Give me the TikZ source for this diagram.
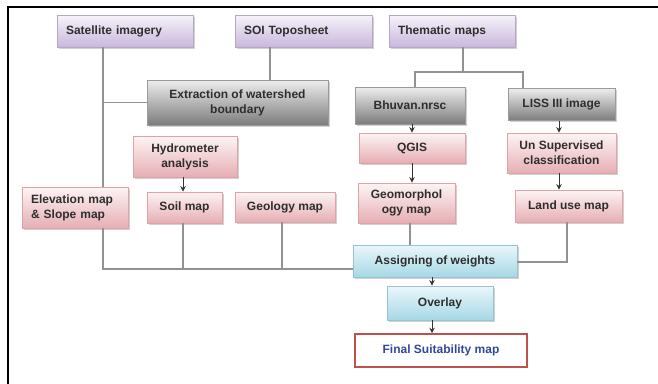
\documentclass[tikz,border=0pt]{standalone}
\usepackage{fontspec}
\setmainfont{Liberation Sans}
\usetikzlibrary{shadows,arrows.meta,calc}
\definecolor{txt}{HTML}{2E2E2E}
\definecolor{lavtop}{HTML}{F6F3FA}
\definecolor{lavbot}{HTML}{C9B7DC}
\definecolor{lavline}{HTML}{B5A7C6}
\definecolor{gratop}{HTML}{EDEDED}
\definecolor{grabot}{HTML}{7C7C7C}
\definecolor{graline}{HTML}{9A9A9A}
\definecolor{pintop}{HTML}{FDF4F4}
\definecolor{pinbot}{HTML}{E6AEB4}
\definecolor{pinline}{HTML}{DDA3A9}
\definecolor{cyatop}{HTML}{EAF7FB}
\definecolor{cyabot}{HTML}{A6D8E6}
\definecolor{cyaline}{HTML}{95C4D3}
\definecolor{conn}{HTML}{929292}
\definecolor{finred}{HTML}{C0504D}
\definecolor{finblue}{HTML}{2F4A9A}
\tikzset{
  box/.style={rectangle, line width=0.8pt, text=txt, align=center,
    font=\bfseries\fontsize{12}{15}\selectfont, inner sep=2pt,
    drop shadow={shadow xshift=1.5pt, shadow yshift=-1.5pt, opacity=0.3, fill=black!60}},
  lavbox/.style={box, draw=lavline, top color=lavtop, bottom color=lavbot},
  grabox/.style={box, draw=graline, top color=gratop, bottom color=grabot},
  pinbox/.style={box, draw=pinline, top color=pintop, bottom color=pinbot},
  cyabox/.style={box, draw=cyaline, top color=cyatop, bottom color=cyabot},
  finbox/.style={rectangle, draw=finred, line width=1.6pt, fill=white, text=finblue,
    font=\bfseries\fontsize{12}{15}\selectfont},
  leftalign/.style={align=left, inner xsep=9pt},
  link/.style={draw=conn, line width=1.4pt},
  arr/.style={draw=black!80, line width=1pt, -{Stealth[length=5.5pt,width=5.5pt]}},
}
\begin{document}
\begin{tikzpicture}[x=1pt,y=-1pt]
\useasboundingbox (0,0) rectangle (658,383);
% frame
\draw[line width=2pt] (7.5,390) -- (7.5,7) -- (665,7);

% top row
\node[lavbox, leftalign, minimum width=136pt, minimum height=32pt, text width=118pt] (sat) at (125,31) {Satellite imagery};
\node[lavbox, leftalign, minimum width=137pt, minimum height=32pt, text width=119pt] (soi) at (303.5,31) {SOI Toposheet};
\node[lavbox, leftalign, minimum width=126pt, minimum height=32pt, text width=108pt] (them) at (452,31) {Thematic maps};

% second row
\node[grabox, minimum width=181pt, minimum height=45pt] (ext) at (237.5,102.5) {Extraction of watershed\\boundary};
\node[grabox, minimum width=110pt, minimum height=37pt] (bhu) at (410,105.5) {Bhuvan.nrsc};
\node[grabox, minimum width=107pt, minimum height=32pt] (liss) at (561.5,104.5) {LISS III image};

% third row
\node[pinbox, minimum width=104pt, minimum height=41pt] (hyd) at (185,156.5) {Hydrometer\\analysis};
\node[pinbox, minimum width=106pt, minimum height=30pt] (qgis) at (412,148) {QGIS};
\node[pinbox, minimum width=109pt, minimum height=40pt] (uns) at (561.5,153) {Un Supervised\\classification};

% map row
\node[pinbox, leftalign, minimum width=106pt, minimum height=41pt, text width=88pt] (elev) at (75,207.5) {Elevation map\\\& Slope map};
\node[pinbox, minimum width=75pt, minimum height=31pt] (soil) at (184.5,207.5) {Soil map};
\node[pinbox, minimum width=100pt, minimum height=30pt] (geol) at (285,207) {Geology map};
\node[pinbox, minimum width=97pt, minimum height=40pt] (geom) at (406.5,203) {Geomorphol\\ogy map};
\node[pinbox, minimum width=107pt, minimum height=32pt] (land) at (568.5,206) {Land use map};

% bottom
\node[cyabox, minimum width=164pt, minimum height=32pt] (assign) at (435,261) {Assigning of weights};
\node[cyabox, minimum width=106pt, minimum height=34pt] (over) at (440,303) {Overlay};
\node[finbox, minimum width=172pt, minimum height=33pt] (final) at (441,350.5) {Final Suitability map};

% helper coordinates
\coordinate (xs) at (103,0);
\coordinate (xt) at (270,0);
\coordinate (xm) at (463,72);
\coordinate (xb) at (415,72);
\coordinate (xl) at (523,72);
\coordinate (bus) at (0,269);
\coordinate (xq) at (412,0);
\coordinate (xu) at (559,0);
\coordinate (xh) at (183,0);
\coordinate (xg) at (282,0);
\coordinate (xo) at (432,0);
\coordinate (xgm) at (410,0);
\coordinate (xlu) at (567,262);

% connectors
\draw[link] (sat.south -| xs) -- (elev.north -| xs);
\draw[link] (ext.west -| xs) -- (ext.west);
\draw[link] (elev.south -| xs) -- (xs |- bus) -- (assign.west |- bus);
\draw[link] (soil.south -| xh) -- (xh |- bus);
\draw[link] (geol.south -| xg) -- (xg |- bus);
\draw[link] (soi.south -| xt) -- (ext.north -| xt);
\draw[link] (them.south -| xm) -- (xm);
\draw[link] (bhu.north -| xb) -- (xb) -- (xl) -- (liss.north -| xl);
\draw[link] (geom.south -| xgm) -- (assign.north -| xgm);
\draw[link] (land.south -| xlu) -- (xlu) -- (assign.east |- xlu);

% arrows
\draw[arr] (bhu.south -| xq) -- (qgis.north -| xq);
\draw[arr] (qgis.south -| xq) -- (geom.north -| xq);
\draw[arr] (liss.south -| xu) -- (uns.north -| xu);
\draw[arr] (uns.south -| xu) -- (land.north -| xu);
\draw[arr] (hyd.south -| xh) -- (soil.north -| xh);
\draw[arr] (assign.south -| xo) -- (over.north -| xo);
\draw[arr] (over.south -| xo) -- (final.north -| xo);
\end{tikzpicture}
\end{document}
